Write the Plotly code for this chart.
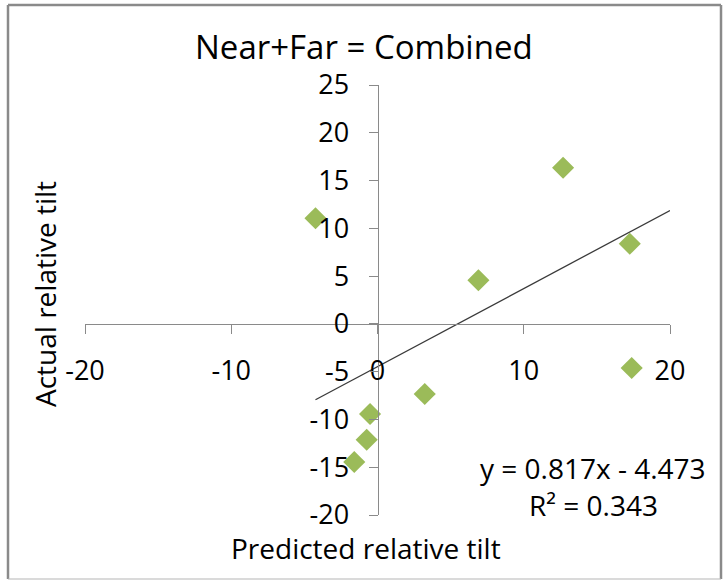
import plotly.graph_objects as go

# ---- data ----
predicted_tilt = [-4.24, 12.69, 17.25, 6.90, 3.23, 17.38, -0.51, -0.74, -1.59]
actual_tilt = [11.05, 16.34, 8.39, 4.56, -7.33, -4.62, -9.43, -12.13, -14.46]
trend_slope = 0.817
trend_intercept = -4.473
r_squared = 0.343
x_ticks = [-20, -10, 0, 10, 20]
y_ticks = [-20, -15, -10, -5, 0, 5, 10, 15, 20, 25]
x_range = [-20, 20]
y_range = [-20, 25]

W, H = 726, 581
L, R, T, B = 85, 56, 85, 66
FONT = "Open Sans"


def px(p):
    return (p - L) / (W - L - R)


def py(p):
    return (H - B - p) / (H - T - B)


trend_x = [min(predicted_tilt), x_range[1]]
trend_y = [trend_slope * v + trend_intercept for v in trend_x]

fig = go.Figure()
fig.add_trace(go.Scatter(x=trend_x, y=trend_y, mode="lines",
                         line=dict(color="#3a3a3a", width=1.3),
                         showlegend=False, hoverinfo="skip"))
fig.add_trace(go.Scatter(x=predicted_tilt, y=actual_tilt, mode="markers",
                         marker=dict(symbol="diamond", size=17, color="#9BBB59",
                                     line=dict(width=0)),
                         showlegend=False))

x_pos = (0 - y_range[0]) / (y_range[1] - y_range[0])
y_pos = (0 - x_range[0]) / (x_range[1] - x_range[0])

fig.update_layout(
    width=W, height=H,
    margin=dict(l=L, r=R, t=T, b=B, pad=0),
    paper_bgcolor="white", plot_bgcolor="white",
    font=dict(family=FONT, color="#000000"),
    xaxis=dict(range=x_range, tickvals=x_ticks, ticktext=[str(v) for v in x_ticks],
               anchor="free", position=x_pos,
               showline=True, linecolor="#8a8a8a", linewidth=1,
               ticks="outside", ticklen=9, tickcolor="#8a8a8a",
               showgrid=False, zeroline=False,
               tickfont=dict(size=27, family=FONT, color="#000"),
               ticklabelstandoff=14),
    yaxis=dict(range=y_range, tickvals=y_ticks, ticktext=[str(v) for v in y_ticks],
               anchor="free", position=y_pos,
               showline=True, linecolor="#8a8a8a", linewidth=1,
               ticks="outside", ticklen=9, tickcolor="#8a8a8a",
               showgrid=False, zeroline=False,
               tickfont=dict(size=27, family=FONT, color="#000"),
               ticklabelstandoff=14),
)

ann = [
    dict(text="Near+Far = Combined", x=px(364), y=py(47), size=33, angle=0),
    dict(text="Actual relative tilt", x=px(45), y=py(294), size=28, angle=-90),
    dict(text="Predicted relative tilt", x=px(366), y=py(548), size=28, angle=0),
    dict(text="y = %.3fx - %.3f" % (trend_slope, -trend_intercept), x=px(593), y=py(468), size=28, angle=0),
    dict(text="R² = %.3f" % r_squared, x=px(593), y=py(505), size=28, angle=0),
]
for a in ann:
    fig.add_annotation(text=a["text"], x=a["x"], y=a["y"], xref="paper", yref="paper",
                       showarrow=False, xanchor="center", yanchor="middle",
                       textangle=a["angle"], font=dict(size=a["size"], family=FONT, color="#000"))

# outer chart frame
frame = [
    (8, 5, 721, 5, "#8a8a8a", 2.5),
    (8, 5, 8, 579, "#8a8a8a", 2.5),
    (721, 5, 721, 579, "#8a8a8a", 2.5),
    (8, 579, 721, 579, "#b5b5b5", 1.2),
]
for x0, y0, x1, y1, c, w in frame:
    fig.add_shape(type="line", xref="paper", yref="paper",
                  x0=px(x0), y0=py(y0), x1=px(x1), y1=py(y1),
                  line=dict(color=c, width=w))

fig.write_html("out.html")
